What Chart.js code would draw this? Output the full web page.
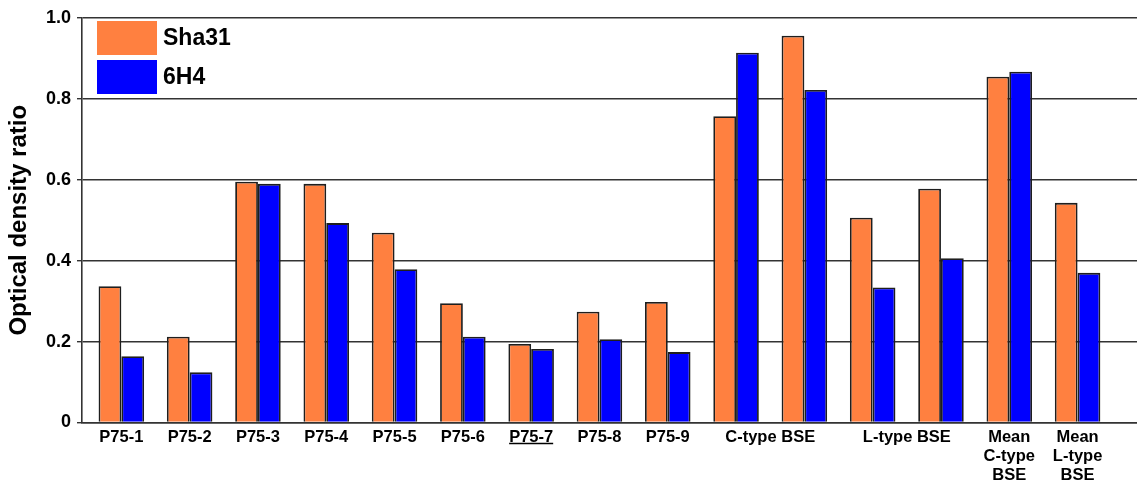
<!DOCTYPE html>
<html>
<head>
<meta charset="utf-8">
<title>Optical density ratio</title>
<script src="https://cdn.jsdelivr.net/npm/chart.js@4"></script>
<style>
  html, body { margin: 0; padding: 0; background: #ffffff; }
  canvas { display: block; }
</style>
</head>
<body>
<canvas id="chart" width="1137" height="483"></canvas>
<script>
// Sample groups, in plotting order
const categories = [
  'P75-1', 'P75-2', 'P75-3', 'P75-4', 'P75-5', 'P75-6', 'P75-7', 'P75-8', 'P75-9',
  'C-type BSE (1)', 'C-type BSE (2)', 'L-type BSE (1)', 'L-type BSE (2)',
  'Mean C-type BSE', 'Mean L-type BSE'
];

// Optical density ratio per group
const sha31 = [0.337, 0.212, 0.595, 0.590, 0.469, 0.295, 0.194, 0.274, 0.298,
               0.757, 0.956, 0.506, 0.578, 0.855, 0.543];
const h6H4  = [0.164, 0.124, 0.590, 0.493, 0.379, 0.212, 0.182, 0.206, 0.174,
               0.914, 0.822, 0.334, 0.406, 0.867, 0.370];

// X-axis labels and the groups each one sits under
const xTickLabels = [
  'P75-1', 'P75-2', 'P75-3', 'P75-4', 'P75-5', 'P75-6', 'P75-7', 'P75-8', 'P75-9',
  'C-type BSE', 'L-type BSE',
  ['Mean', 'C-type', 'BSE'], ['Mean', 'L-type', 'BSE']
];
const xTickGroups = [[0], [1], [2], [3], [4], [5], [6], [7], [8], [9, 10], [11, 12], [13], [14]];
const underlinedLabels = ['P75-7'];

// Y-axis tick labels (0 to 1.0 in steps of 0.2)
const yTickLabels = ['0', '0.2', '0.4', '0.6', '0.8', '1.0'];

const groupPositions = categories.map((_, i) => i);
const xTickPositions = xTickGroups.map(g => g.reduce((a, b) => a + b, 0) / g.length);

const FONT = "'Liberation Sans', Arial, Helvetica, sans-serif";
Chart.defaults.font.family = FONT;
Chart.defaults.color = '#000';

const X_FONT = { family: FONT, size: 16.5, weight: 'bold', lineHeight: 1.13 };
const X_PAD = 6;

// Legend drawn inside the plot, top-left
const insideLegend = {
  id: 'insideLegend',
  afterDraw(chart) {
    const { ctx, chartArea } = chart;
    const x0 = chartArea.left + 15;
    let y0 = chartArea.top + 3;
    const bw = 60, bh = 34, gap = 5;
    ctx.save();
    ctx.font = `bold 23px ${FONT}`;
    ctx.textBaseline = 'middle';
    ctx.textAlign = 'left';
    chart.data.datasets.forEach(ds => {
      ctx.fillStyle = ds.backgroundColor;
      ctx.fillRect(x0, y0, bw, bh);
      ctx.fillStyle = '#000';
      ctx.fillText(ds.label, x0 + bw + 6, y0 + bh / 2 + 1);
      y0 += bh + gap;
    });
    ctx.restore();
  }
};

// Underline for highlighted x labels
const underlineLabels = {
  id: 'underlineLabels',
  afterDraw(chart) {
    const xs = chart.scales.x;
    const ctx = chart.ctx;
    ctx.save();
    ctx.font = `bold ${X_FONT.size}px ${FONT}`;
    ctx.strokeStyle = '#000';
    ctx.lineWidth = 1.3;
    underlinedLabels.forEach(label => {
      const idx = xTickLabels.indexOf(label);
      if (idx < 0) return;
      const px = xs.getPixelForValue(xTickPositions[idx]);
      const w = ctx.measureText(label).width;
      const y = xs.top + 21;
      ctx.beginPath();
      ctx.moveTo(px - w / 2, y);
      ctx.lineTo(px + w / 2, y);
      ctx.stroke();
    });
    ctx.restore();
  }
};

new Chart(document.getElementById('chart'), {
  type: 'bar',
  data: {
    datasets: [
      {
        label: 'Sha31',
        data: sha31.map((v, i) => ({ x: groupPositions[i], y: v })),
        backgroundColor: '#FF8040',
        borderColor: '#1e1e1e',
        borderWidth: 1.8
      },
      {
        label: '6H4',
        data: h6H4.map((v, i) => ({ x: groupPositions[i], y: v })),
        backgroundColor: '#0000FF',
        borderColor: '#1e1e1e',
        borderWidth: 1.8
      }
    ]
  },
  options: {
    responsive: false,
    devicePixelRatio: 1,
    animation: false,
    categoryPercentage: 2 / 3,
    barPercentage: 1,
    layout: { padding: { top: 18, right: 0, bottom: 0, left: 0 } },
    plugins: {
      legend: { display: false },
      tooltip: { enabled: false },
      title: { display: false }
    },
    scales: {
      x: {
        type: 'linear',
        offset: false,
        min: -0.576,
        max: 14.87,
        grid: { display: false, drawTicks: false },
        border: { display: true, color: '#333', width: 1.5 },
        afterBuildTicks: s => { s.ticks = xTickPositions.map(v => ({ value: v })); },
        ticks: {
          autoSkip: false,
          maxRotation: 0,
          minRotation: 0,
          padding: X_PAD,
          color: '#000',
          font: X_FONT,
          callback: (v, i) => xTickLabels[i]
        },
        afterFit: s => { s.height = 60.5; }
      },
      y: {
        min: 0,
        max: 1,
        ticks: {
          stepSize: 0.2,
          padding: 6,
          color: '#000',
          font: { family: FONT, size: 18, weight: 'bold' },
          callback: (v, i) => yTickLabels[i]
        },
        grid: { color: '#333', lineWidth: 1.4, tickLength: 5, drawTicks: true },
        border: { display: true, color: '#333', width: 1.6 },
        title: {
          display: true,
          text: 'Optical density ratio',
          color: '#000',
          font: { family: FONT, size: 24, weight: 'bold' },
          padding: { top: 5, bottom: 0 }
        },
        afterFit: s => { s.width = 82; }
      }
    }
  },
  plugins: [insideLegend, underlineLabels]
});
</script>
</body>
</html>
